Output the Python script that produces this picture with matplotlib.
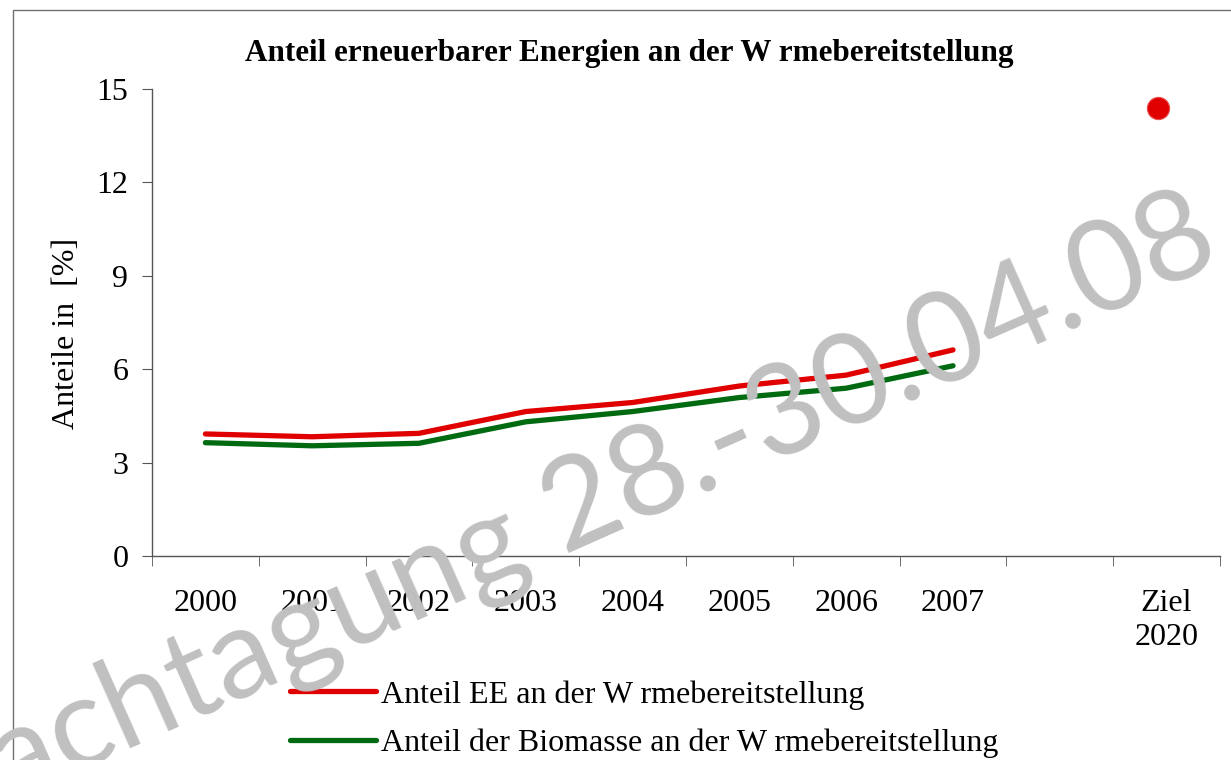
import matplotlib
matplotlib.use('Agg')
import matplotlib.pyplot as plt
from matplotlib.patches import Rectangle
import numpy as np

# Data
categories = ['2000', '2001', '2002', '2003', '2004', '2005', '2006', '2007', '', 'Ziel\n2020']
anteil_ee = [3.92, 3.83, 3.94, 4.64, 4.93, 5.46, 5.81, 6.62]
anteil_biomasse = [3.64, 3.54, 3.62, 4.31, 4.64, 5.09, 5.39, 6.11]
ziel_2020 = 14.4
y_ticks = [0, 3, 6, 9, 12, 15]

title = 'Anteil erneuerbarer Energien an der W rmebereitstellung'
label_ee = 'Anteil EE an der W rmebereitstellung'
label_bio = 'Anteil der Biomasse an der W rmebereitstellung'
watermark = 'Fachtagung 28.-30.04.08'

plt.rcParams['font.family'] = ['Liberation Serif', 'DejaVu Serif']

fig = plt.figure(figsize=(12.31, 7.6), dpi=100)
ax = fig.add_axes([152 / 1231, 1 - 556 / 760, (1220 - 152) / 1231, (556 - 89) / 760])

x = np.arange(len(categories))
line_ee, = ax.plot(x[:len(anteil_ee)], anteil_ee, color='#e00000', lw=3.8,
                   solid_capstyle='round', label=label_ee, zorder=3)
line_bio, = ax.plot(x[:len(anteil_biomasse)], anteil_biomasse, color='#006a10', lw=3.8,
                    solid_capstyle='round', label=label_bio, zorder=3)
ax.plot([x[-1] - 0.08], [ziel_2020], 'o', color='#e00000', markersize=16,
        markeredgecolor='#e85050', markeredgewidth=0.8, zorder=3)

ax.set_xlim(-0.5, len(categories) - 0.5)
ax.set_ylim(0, 15)
ax.set_yticks(y_ticks)
ax.set_xticks(x)
ax.set_xticklabels(categories, fontsize=23, linespacing=1.2)
ax.set_xticks(np.arange(-0.5, len(categories)), minor=True)
ax.tick_params(axis='x', which='major', length=0, pad=24)
ax.tick_params(axis='x', which='minor', length=7, direction='out', color='#555555')
ax.tick_params(axis='y', labelsize=23, length=7, direction='out', color='#555555', pad=10)
for side in ['top', 'right']:
    ax.spines[side].set_visible(False)
for side in ['left', 'bottom']:
    ax.spines[side].set_color('#555555')
    ax.spines[side].set_linewidth(1.0)

fig.text(67 / 1231, 1 - 333 / 760, 'Anteile in  [%]', rotation=90, fontsize=23,
         ha='center', va='center')
fig.text(629 / 1231, 1 - 53 / 760, title, fontsize=22.4, fontweight='bold',
         ha='center', va='center')

fig.legend(handles=[line_ee, line_bio], loc='upper left',
           bbox_to_anchor=(290 / 1231, 1 - 680 / 760), frameon=False,
           fontsize=23, handlelength=2.7, handletextpad=0.15,
           labelspacing=0.6, borderpad=0, borderaxespad=0)

# Frame around the chart area
fig.patches.append(Rectangle((13 / 1231, -0.1), 1.2, 1.1 - 10 / 760, transform=fig.transFigure,
                             fill=False, edgecolor='#707070', lw=1.0))

# Watermark
fig.text(1224 / 1231, 1 - 262 / 760, watermark, rotation=24, rotation_mode='anchor',
         ha='right', va='baseline', fontsize=91, color='#c0c0c0',
         family=['Lato', 'DejaVu Sans'], zorder=10)

fig.savefig('out.png', dpi=100)
